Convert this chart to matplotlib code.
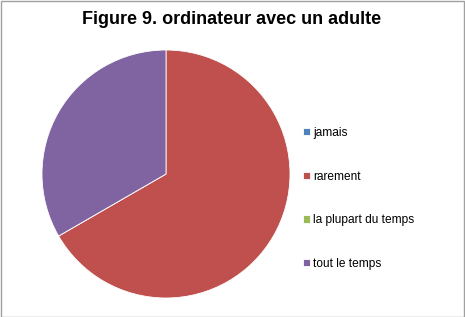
import matplotlib
matplotlib.use("Agg")
import matplotlib.pyplot as plt
from matplotlib.patches import Rectangle

plt.rcParams['font.family'] = ['Liberation Sans', 'DejaVu Sans']

categories = ["jamais", "rarement", "la plupart du temps", "tout le temps"]
values = [0, 2, 0, 1]
colors = ["#4F81BD", "#C0504D", "#9BBB59", "#8064A2"]
title = "Figure 9. ordinateur avec un adulte"

W, H = 465, 317
fig = plt.figure(figsize=(W / 100, H / 100), dpi=100)
fig.patch.set_facecolor("white")
fig.add_artist(Rectangle((0.5 / W, 0.5 / H), 1 - 1.5 / W, 1 - 1.5 / H, transform=fig.transFigure,
                         fill=False, edgecolor="#A0A0A0", linewidth=1.0))

cx, cy, r = 166, 174, 124
ax = fig.add_axes([(cx - r) / W, (H - cy - r) / H, 2 * r / W, 2 * r / H])
wedges, _ = ax.pie(values, colors=colors, startangle=90, counterclock=False,
                   wedgeprops=dict(edgecolor="white", linewidth=0.6))
ax.set_xlim(-1, 1)
ax.set_ylim(-1, 1)
ax.set_aspect("equal")
ax.axis("off")

fig.text(232 / W, 1 - 20 / H, title, ha="center", va="center", fontsize=13, fontweight="bold")

leg = fig.legend(wedges, categories, loc="upper left", bbox_to_anchor=(297 / W, 1 - 121 / H),
                 frameon=False, fontsize=8.6, handlelength=0.55, handleheight=0.55,
                 handletextpad=0.3, labelspacing=2.65, borderpad=0)

fig.savefig("out.png", dpi=100)
